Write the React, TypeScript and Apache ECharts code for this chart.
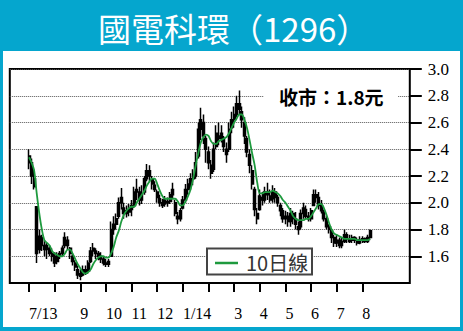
import React, { useEffect, useRef } from 'react';
import * as echarts from 'echarts';

// ---- data ----
const titleText = '國電科環（1296）';
const closeNote = '收市：1.8元';
const legendName = '10日線';
// month labels at each month start (Jul 2013 .. Aug 2014); '' = tick without label
const monthLabels = ['7/13', '', '9', '10', '11', '12', '1/14', '', '3', '4', '5', '6', '7', '8'];
const yTicks = [1.6, 1.8, 2.0, 2.2, 2.4, 2.6, 2.8, 3.0];
const SLOTS_PER_MONTH = 10;
const PAD_LEFT = 7;
const TOTAL_SLOTS = 156;

// [open, close, low, high]
const ohlc: number[][] = [
  // Jul 2013
  [2.35, 2.30, 2.25, 2.40], [2.30, 2.20, 2.14, 2.33], [2.18, 2.12, 2.10, 2.25], [1.97, 1.62, 1.55, 1.97], [1.65, 1.75, 1.62, 1.80],
  [1.74, 1.68, 1.64, 1.76], [1.68, 1.65, 1.60, 1.72], [1.65, 1.68, 1.58, 1.70], [1.66, 1.62, 1.60, 1.68], [1.62, 1.60, 1.56, 1.66],
  // Aug
  [1.60, 1.55, 1.52, 1.63], [1.56, 1.60, 1.54, 1.63], [1.60, 1.62, 1.58, 1.64], [1.62, 1.66, 1.60, 1.68], [1.68, 1.74, 1.66, 1.78],
  [1.72, 1.68, 1.65, 1.75], [1.66, 1.62, 1.58, 1.67], [1.60, 1.56, 1.53, 1.62], [1.55, 1.52, 1.49, 1.57], [1.50, 1.46, 1.43, 1.53],
  // Sep
  [1.47, 1.45, 1.42, 1.50], [1.46, 1.50, 1.45, 1.53], [1.50, 1.48, 1.46, 1.53], [1.49, 1.55, 1.47, 1.57], [1.56, 1.64, 1.55, 1.67],
  [1.64, 1.66, 1.60, 1.70], [1.64, 1.62, 1.58, 1.66], [1.62, 1.60, 1.57, 1.64], [1.60, 1.58, 1.55, 1.63], [1.58, 1.55, 1.53, 1.60],
  // Oct
  [1.55, 1.54, 1.52, 1.58], [1.54, 1.56, 1.52, 1.58], [1.60, 1.80, 1.60, 1.86], [1.80, 1.84, 1.76, 1.90], [1.84, 1.88, 1.80, 1.92],
  [1.90, 2.00, 1.88, 2.04], [2.00, 2.04, 1.95, 2.11], [1.96, 1.92, 1.88, 2.00], [1.92, 1.94, 1.89, 1.98], [1.93, 1.96, 1.90, 1.99],
  // Nov
  [1.95, 1.98, 1.90, 2.02], [1.98, 2.08, 1.96, 2.12], [2.08, 2.10, 2.02, 2.18], [2.08, 2.02, 1.98, 2.12], [2.02, 2.06, 1.99, 2.13],
  [2.08, 2.18, 2.06, 2.20], [2.18, 2.24, 2.16, 2.29], [2.24, 2.20, 2.16, 2.28], [2.18, 2.14, 2.10, 2.20], [2.13, 2.10, 2.08, 2.16],
  // Dec
  [2.08, 2.04, 2.00, 2.10], [2.03, 2.00, 1.97, 2.06], [2.00, 1.98, 1.96, 2.03], [1.99, 2.02, 1.97, 2.05], [2.01, 2.00, 1.97, 2.04],
  [2.01, 2.06, 1.99, 2.08], [2.06, 2.10, 2.03, 2.15], [2.00, 1.92, 1.90, 2.02], [1.90, 1.88, 1.84, 1.93], [1.88, 1.94, 1.86, 1.96],
  // Jan 2014
  [1.96, 2.02, 1.95, 2.05], [2.02, 2.10, 2.00, 2.14], [2.10, 2.14, 2.06, 2.18], [2.14, 2.18, 2.10, 2.22], [2.18, 2.20, 2.13, 2.25],
  [2.20, 2.30, 2.18, 2.38], [2.35, 2.55, 2.33, 2.60], [2.55, 2.62, 2.47, 2.71], [2.60, 2.50, 2.44, 2.66], [2.48, 2.40, 2.30, 2.50],
  // Feb
  [2.38, 2.30, 2.25, 2.42], [2.28, 2.22, 2.18, 2.32], [2.25, 2.40, 2.23, 2.45], [2.42, 2.52, 2.40, 2.58], [2.50, 2.48, 2.43, 2.60],
  [2.48, 2.52, 2.45, 2.58], [2.48, 2.42, 2.38, 2.50], [2.40, 2.36, 2.30, 2.45], [2.40, 2.55, 2.38, 2.60], [2.56, 2.62, 2.52, 2.68],
  // Mar
  [2.62, 2.66, 2.56, 2.72], [2.66, 2.74, 2.64, 2.80], [2.74, 2.70, 2.66, 2.84], [2.68, 2.62, 2.56, 2.72], [2.60, 2.50, 2.44, 2.64],
  [2.48, 2.38, 2.34, 2.50], [2.36, 2.28, 2.22, 2.40], [2.24, 2.14, 2.10, 2.28], [2.10, 1.95, 1.90, 2.12], [1.92, 1.88, 1.84, 1.96],
  // Apr
  [1.95, 2.05, 1.94, 2.10], [2.04, 2.02, 1.98, 2.08], [2.02, 2.08, 2.00, 2.12], [2.08, 2.06, 2.02, 2.15], [2.05, 2.02, 2.00, 2.10],
  [2.03, 2.08, 2.00, 2.13], [2.08, 2.04, 2.00, 2.11], [2.04, 2.00, 1.97, 2.06], [1.98, 1.94, 1.90, 2.00], [1.94, 1.88, 1.85, 1.96],
  // May
  [1.88, 1.90, 1.84, 1.94], [1.90, 1.86, 1.82, 1.93], [1.86, 1.92, 1.82, 1.96], [1.92, 1.88, 1.84, 1.94], [1.88, 1.84, 1.80, 1.93],
  [1.82, 1.80, 1.76, 1.86], [1.82, 1.92, 1.80, 1.95], [1.92, 1.96, 1.88, 2.00], [1.95, 1.90, 1.88, 1.98], [1.90, 1.88, 1.86, 1.93],
  // Jun
  [1.88, 1.94, 1.86, 1.96], [1.98, 2.06, 1.98, 2.10], [2.06, 2.04, 2.00, 2.10], [2.04, 1.98, 1.95, 2.08], [1.98, 1.94, 1.92, 2.02],
  [1.93, 1.88, 1.86, 1.95], [1.88, 1.82, 1.80, 1.90], [1.82, 1.80, 1.77, 1.84], [1.79, 1.74, 1.70, 1.80], [1.74, 1.70, 1.67, 1.76],
  // Jul
  [1.70, 1.72, 1.67, 1.76], [1.72, 1.68, 1.66, 1.74], [1.68, 1.71, 1.66, 1.74], [1.71, 1.76, 1.70, 1.80], [1.76, 1.73, 1.70, 1.78],
  [1.73, 1.71, 1.70, 1.76], [1.72, 1.74, 1.70, 1.76], [1.74, 1.72, 1.70, 1.75], [1.72, 1.70, 1.68, 1.74], [1.70, 1.72, 1.69, 1.75],
  // Aug
  [1.72, 1.73, 1.70, 1.75], [1.73, 1.71, 1.70, 1.74], [1.71, 1.74, 1.70, 1.76], [1.74, 1.79, 1.72, 1.80],
];

const ma10: number[] = [
  2.34, 2.30, 2.24, 2.07, 1.92, 1.80, 1.72, 1.70, 1.68, 1.64,
  1.62, 1.61, 1.60, 1.60, 1.62, 1.65, 1.65, 1.62, 1.58, 1.54,
  1.51, 1.48, 1.47, 1.48, 1.50, 1.54, 1.57, 1.59, 1.60, 1.60,
  1.59, 1.59, 1.62, 1.67, 1.74, 1.79, 1.86, 1.91, 1.94, 1.96,
  1.97, 1.97, 2.00, 2.03, 2.06, 2.09, 2.13, 2.16, 2.18, 2.18,
  2.14, 2.09, 2.05, 2.03, 2.03, 2.03, 2.03, 2.03, 2.01, 1.98,
  1.98, 2.01, 2.05, 2.10, 2.18, 2.28, 2.37, 2.45, 2.49, 2.51,
  2.50, 2.46, 2.44, 2.44, 2.46, 2.47, 2.48, 2.49, 2.52, 2.56,
  2.60, 2.63, 2.66, 2.66, 2.62, 2.56, 2.47, 2.37, 2.28, 2.15,
  2.07, 2.07, 2.08, 2.08, 2.08, 2.09, 2.08, 2.07, 2.05, 2.02,
  2.00, 1.97, 1.94, 1.90, 1.88, 1.87, 1.87, 1.87, 1.88, 1.88,
  1.90, 1.93, 1.96, 1.99, 1.99, 1.96, 1.91, 1.85, 1.80, 1.77,
  1.76, 1.75, 1.74, 1.73, 1.73, 1.73, 1.73, 1.73, 1.72, 1.72,
  1.72, 1.72, 1.72, 1.73,
];

// ---- styling ----
const BLUE = '#05A6CE';
const GREEN = '#1E9A3E';
const SERIF = '"Liberation Serif", "Times New Roman", serif';
const SANS = '"Noto Sans CJK TC", "Noto Sans", sans-serif';

const categories = Array.from({ length: TOTAL_SLOTS }, (_, i) => 'd' + i);
const pad = (n: number, v: any) => Array.from({ length: n }, () => v);
const candleData = [...pad(PAD_LEFT, ['-', '-', '-', '-']), ...ohlc];
const maData = [...pad(PAD_LEFT, '-'), ...ma10];

const monthIndex = (i: number) => {
  const k = i - PAD_LEFT;
  if (k < 0 || k % SLOTS_PER_MONTH !== 0) return -1;
  const m = k / SLOTS_PER_MONTH;
  return m < monthLabels.length ? m : -1;
};

export default function App() {
  const ref = useRef<HTMLDivElement>(null);
  useEffect(() => {
    if (!ref.current) return;
    const chart = echarts.init(ref.current, null, { renderer: 'svg' });
    chart.setOption({
      animation: false,
      grid: {
        left: 9.8,
        top: 69,
        width: 400,
        height: 214,
        show: true,
        borderColor: '#000',
        borderWidth: 2,
        backgroundColor: 'transparent',
      },
      xAxis: {
        type: 'category',
        data: categories,
        boundaryGap: true,
        axisLine: { show: false },
        axisTick: {
          show: true,
          alignWithLabel: true,
          length: 9,
          lineStyle: { color: '#000', width: 2 },
          interval: (i: number) => monthIndex(i) >= 0,
        },
        axisLabel: {
          interval: (i: number) => monthIndex(i) >= 0 && monthLabels[monthIndex(i)] !== '',
          formatter: (_v: string, i: number) => {
            const m = monthIndex(i);
            return m >= 0 ? monthLabels[m] : '';
          },
          align: 'left',
          margin: 22,
          fontFamily: SERIF,
          fontSize: 16,
          color: '#000',
        },
        splitLine: { show: false },
      },
      yAxis: {
        type: 'value',
        position: 'right',
        min: 1.4,
        max: 3.0,
        interval: 0.2,
        axisLine: { show: false },
        axisTick: {
          show: true,
          length: 12,
          lineStyle: { color: '#000', width: 2 },
          customValues: yTicks,
        },
        axisLabel: {
          margin: 18,
          customValues: yTicks,
          formatter: (v: number) => (v < 1.5 ? '' : v.toFixed(1)),
          fontFamily: SERIF,
          fontSize: 17,
          color: '#000',
        },
        splitLine: { show: true, lineStyle: { type: 'dotted', color: '#555', width: 1 } },
      },
      series: [
        {
          type: 'candlestick',
          data: candleData,
          barWidth: 2.5,
          itemStyle: {
            color: '#000',
            color0: '#000',
            borderColor: '#000',
            borderColor0: '#000',
            borderWidth: 1.5,
          },
        },
        {
          type: 'line',
          name: legendName,
          data: maData,
          smooth: 0.3,
          showSymbol: false,
          symbol: 'none',
          lineStyle: { color: GREEN, width: 1.8 },
          z: 3,
        },
      ],
      graphic: [
        {
          type: 'text',
          x: 98,
          y: 28,
          z: 100,
          style: { text: titleText, fill: '#fff', fontSize: 33, fontFamily: SANS, align: 'left', verticalAlign: 'middle' },
        },
        {
          type: 'rect',
          z: 100,
          shape: { x: 264, y: 85, width: 134, height: 21 },
          style: { fill: '#fff' },
        },
        {
          type: 'text',
          x: 279,
          y: 96,
          z: 101,
          style: { text: closeNote, fill: '#000', fontSize: 19, fontWeight: 'bold', fontFamily: SANS, align: 'left', verticalAlign: 'middle' },
        },
        {
          type: 'rect',
          z: 100,
          shape: { x: 207, y: 248.5, width: 105, height: 26 },
          style: { fill: '#fff', stroke: '#444', lineWidth: 2 },
        },
        {
          type: 'line',
          z: 101,
          shape: { x1: 215, y1: 263, x2: 238, y2: 263 },
          style: { stroke: GREEN, lineWidth: 2.5 },
        },
        {
          type: 'text',
          x: 246,
          y: 262,
          z: 101,
          style: { text: legendName, fill: '#333', fontSize: 20, fontFamily: SANS, align: 'left', verticalAlign: 'middle' },
        },
      ],
    });
    return () => chart.dispose();
  }, []);

  return (
    <div style={{ position: 'fixed', left: 0, top: 0, width: 463, height: 331, background: BLUE, overflow: 'hidden' }}>
      <div style={{ position: 'absolute', left: 3, top: 51, width: 457, height: 276, background: '#fff' }} />
      <div ref={ref} style={{ position: 'absolute', left: 0, top: 0, width: 463, height: 331 }} />
    </div>
  );
}
